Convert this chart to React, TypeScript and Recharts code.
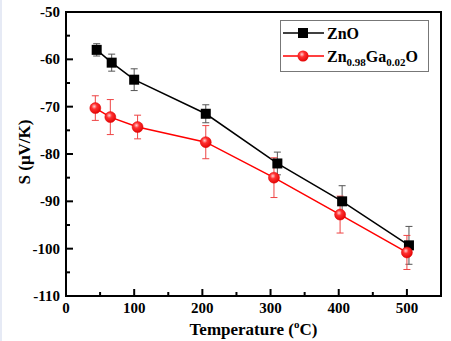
import {
  ErrorBar,
  Legend,
  Line,
  LineChart,
  ReferenceArea,
  XAxis,
  YAxis,
} from "recharts";

const tempZnO = [45, 67, 100, 205, 310, 405, 503];
const sZnO = [-58, -60.7, -64.3, -71.5, -82, -90, -99.3];
const errZnO = [1.3, 1.8, 2.3, 1.9, 2.4, 3.3, 4];

const tempGa = [43, 65, 105, 205, 305, 402, 500];
const sGa = [-70.3, -72.2, -74.3, -77.5, -85, -92.8, -100.8];
const errGa = [2.6, 3.7, 2.5, 3.5, 4.2, 3.9, 3.6];

const xTicks = [0, 50, 100, 150, 200, 250, 300, 350, 400, 450, 500];
const yTicks = [-110, -105, -100, -95, -90, -85, -80, -75, -70, -65, -60, -55, -50];

const FONT = "Liberation Serif, DejaVu Serif, serif";

const dataZnO = tempZnO.map((t, i) => ({ t, s: sZnO[i], err: errZnO[i] }));
const dataGa = tempGa.map((t, i) => ({ t, s: sGa[i], err: errGa[i] }));

const XTick = (props: any) => {
  const { x, y, payload } = props;
  const major = payload.value % 100 === 0;
  return (
    <g>
      <line x1={x} y1={y} x2={x} y2={y - (major ? 7 : 4)} stroke="#000" strokeWidth={2} />
      {major && (
        <text x={x} y={y + 17} textAnchor="middle" style={{ fontFamily: FONT }} fontWeight="bold" fontSize={15} fill="#000">
          {payload.value}
        </text>
      )}
    </g>
  );
};

const YTick = (props: any) => {
  const { x, y, payload } = props;
  const major = payload.value % 10 === 0;
  return (
    <g>
      <line x1={x} y1={y} x2={x + (major ? 7 : 4)} y2={y} stroke="#000" strokeWidth={2} />
      {major && (
        <text x={x - 6} y={y + 5} textAnchor="end" style={{ fontFamily: FONT }} fontWeight="bold" fontSize={15} fill="#000">
          {payload.value}
        </text>
      )}
    </g>
  );
};

const XLabel = (props: any) => {
  const { x, y, width } = props.viewBox;
  return (
    <text x={x + width / 2} y={y + 39} textAnchor="middle" style={{ fontFamily: FONT }} fontWeight="bold" fontSize={17} fill="#000">
      Temperature (<tspan fontSize={11} dy={-7}>o</tspan>
      <tspan dy={7}>C)</tspan>
    </text>
  );
};

const YLabel = (props: any) => {
  const { y, height } = props.viewBox;
  const cy = y + height / 2 - 2;
  return (
    <text
      x={24}
      y={cy}
      transform={`rotate(-90 24 ${cy})`}
      textAnchor="middle"
      dominantBaseline="central"
      style={{ fontFamily: FONT }}
      fontWeight="bold"
      fontSize={17}
      fill="#000"
    >
      S (μV/K)
    </text>
  );
};

const SquareDot = (props: any) => {
  const { cx, cy, index } = props;
  return <rect key={`sq-${index}`} x={cx - 5} y={cy - 5} width={10} height={10} fill="#000" />;
};

const BallDot = (props: any) => {
  const { cx, cy, index } = props;
  return <circle key={`ball-${index}`} cx={cx} cy={cy} r={5.5} fill="url(#ball)" stroke="#e00000" strokeWidth={0.5} />;
};

const renderLegend = () => (
  <div
    style={{
      width: 149,
      height: 52,
      border: "1px solid #777",
      background: "#fff",
      boxSizing: "border-box",
      fontFamily: FONT,
      fontWeight: "bold",
      fontSize: 16,
    }}
  >
    <svg width={147} height={50} style={{ fontFamily: FONT, display: "block" }}>
      <defs>
        <radialGradient id="ballLeg" cx="0.4" cy="0.35" r="0.7">
          <stop offset="0" stopColor="#ffd0d0" />
          <stop offset="0.35" stopColor="#ff3030" />
          <stop offset="1" stopColor="#e00000" />
        </radialGradient>
      </defs>
      <line x1={2} y1={12} x2={43} y2={12} stroke="#000" strokeWidth={1.5} />
      <rect x={17} y={7} width={10} height={10} fill="#000" />
      <text x={46} y={18} fill="#000">ZnO</text>
      <line x1={2} y1={35} x2={43} y2={35} stroke="#ff0000" strokeWidth={1.5} />
      <circle cx={22} cy={35} r={5.5} fill="url(#ballLeg)" />
      <text x={46} y={41} fill="#000">
        Zn<tspan fontSize={11} dy={4}>0.98</tspan>
        <tspan dy={-4}>Ga</tspan>
        <tspan fontSize={11} dy={4}>0.02</tspan>
        <tspan dy={-4}>O</tspan>
      </text>
    </svg>
  </div>
);

export default function App() {
  return (
    <div style={{ position: "absolute", left: 0, top: 0, width: 451, height: 341, background: "#fff" }}>
      <div style={{ position: "absolute", left: 0, top: 0, width: 2, height: 341, background: "#e6eaf5" }} />
      <LineChart width={451} height={341} margin={{ top: 12, right: 10, bottom: 0, left: 0 }} style={{ fontFamily: FONT }}>
        <defs>
          <radialGradient id="ball" cx="0.4" cy="0.35" r="0.7">
            <stop offset="0" stopColor="#ffd0d0" />
            <stop offset="0.35" stopColor="#ff3030" />
            <stop offset="1" stopColor="#e00000" />
          </radialGradient>
        </defs>
        <XAxis
          type="number"
          dataKey="t"
          domain={[0, 550]}
          ticks={xTicks}
          interval={0}
          height={45}
          tickSize={0}
          tickMargin={0}
          tick={<XTick />}
          axisLine={{ stroke: "#000", strokeWidth: 2 }}
          tickLine={false}
          label={<XLabel />}
          allowDataOverflow
        />
        <YAxis
          type="number"
          domain={[-110, -50]}
          ticks={yTicks}
          interval={0}
          width={66}
          tickSize={0}
          tickMargin={0}
          tick={<YTick />}
          axisLine={{ stroke: "#000", strokeWidth: 2 }}
          tickLine={false}
          label={<YLabel />}
          allowDataOverflow
        />
        <ReferenceArea
          x1={0}
          x2={550}
          y1={-110}
          y2={-50}
          fill="none"
          stroke="#000"
          strokeWidth={2}
          ifOverflow="visible"
        />
        <Legend
          content={renderLegend}
          layout="horizontal"
          verticalAlign="middle"
          align="center"
          wrapperStyle={{ position: "absolute", left: 280, top: 20, width: 149, height: 52 }}
        />
        <Line
          data={dataZnO}
          dataKey="s"
          name="ZnO"
          stroke="#000"
          strokeWidth={1.5}
          dot={SquareDot}
          activeDot={false}
          isAnimationActive={false}
        >
          <ErrorBar dataKey="err" direction="y" width={3.5} stroke="#555" strokeWidth={1} isAnimationActive={false} />
        </Line>
        <Line
          data={dataGa}
          dataKey="s"
          name="Zn0.98Ga0.02O"
          stroke="#ff0000"
          strokeWidth={1.5}
          dot={BallDot}
          activeDot={false}
          isAnimationActive={false}
        >
          <ErrorBar dataKey="err" direction="y" width={3.5} stroke="#ee4444" strokeWidth={1} isAnimationActive={false} />
        </Line>
      </LineChart>
    </div>
  );
}
